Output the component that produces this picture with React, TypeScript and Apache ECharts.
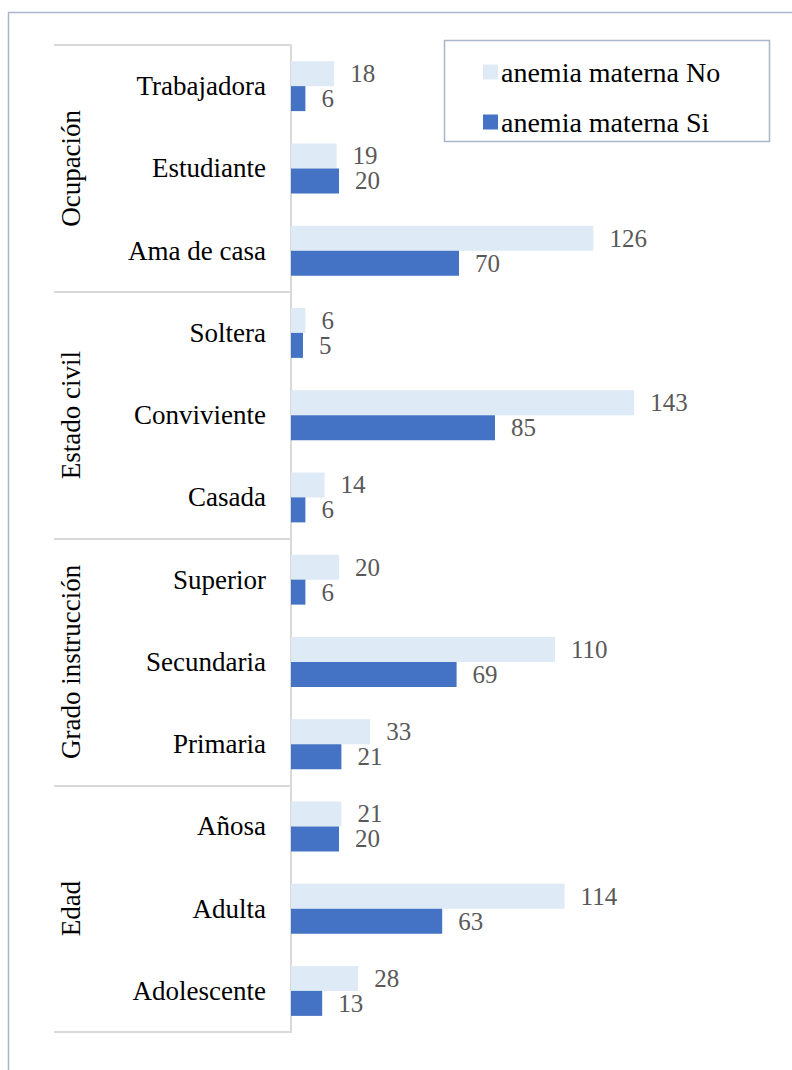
import React, { useEffect, useRef } from "react";
import * as echarts from "echarts";

const categories = [
  "Trabajadora", "Estudiante", "Ama de casa",
  "Soltera", "Conviviente", "Casada",
  "Superior", "Secundaria", "Primaria",
  "Añosa", "Adulta", "Adolescente",
];
const groups = ["Ocupación", "Estado civil", "Grado instrucción", "Edad"];
const seriesNames = ["anemia materna No", "anemia materna Si"];
const valuesNo = [18, 19, 126, 6, 143, 14, 20, 110, 33, 21, 114, 28];
const valuesSi = [6, 20, 70, 5, 85, 6, 6, 69, 21, 20, 63, 13];

const FONT = "'Liberation Serif', serif";

export default function App() {
  const ref = useRef<HTMLDivElement>(null);
  useEffect(() => {
    const chart = echarts.init(ref.current!, null, { renderer: "svg" });
    chart.setOption({
      animation: false,
      backgroundColor: "#ffffff",
      textStyle: { fontFamily: FONT },
      grid: { left: 291, top: 45, bottom: 38, width: 480, containLabel: false },
      xAxis: { type: "value", min: 0, max: 200, show: false },
      yAxis: [
        {
          type: "category",
          data: categories,
          inverse: true,
          axisLine: { show: true, lineStyle: { color: "#D9D9D9", width: 2 } },
          axisTick: { show: false },
          axisLabel: { interval: 0, margin: 25, fontSize: 27, color: "#000000", fontFamily: FONT },
        },
        {
          type: "category",
          data: groups,
          inverse: true,
          position: "left",
          axisLine: { show: false },
          axisTick: { show: true, interval: 0, length: 237, lineStyle: { color: "#D9D9D9", width: 2 } },
          axisLabel: { interval: 0, rotate: 90, margin: 207, fontSize: 27, color: "#000000", fontFamily: FONT },
        },
      ],
      legend: {
        left: 478,
        top: 53,
        orient: "vertical",
        itemWidth: 15,
        itemHeight: 15,
        itemGap: 22,
        icon: "rect",
        data: seriesNames,
        textStyle: { fontSize: 28, color: "#000000", fontFamily: FONT, padding: [0, 0, 0, -2] },
      },
      graphic: [
        {
          type: "rect",
          shape: { x: 8.5, y: 12.5, width: 820, height: 1100 },
          style: { fill: "none", stroke: "#A9B6CC", lineWidth: 1.5 },
          silent: true,
        },
        {
          type: "rect",
          shape: { x: 444.5, y: 40.5, width: 325, height: 101 },
          style: { fill: "none", stroke: "#A9B6CC", lineWidth: 1.5 },
          silent: true,
        },
      ],
      series: [
        {
          name: seriesNames[0],
          type: "bar",
          data: valuesNo,
          barWidth: 25,
          barGap: "0%",
          itemStyle: { color: "#DEEAF6" },
          label: { show: true, position: "right", distance: 16, fontSize: 25, color: "#595959", fontFamily: FONT },
        },
        {
          name: seriesNames[1],
          type: "bar",
          data: valuesSi,
          barWidth: 25,
          barGap: "0%",
          itemStyle: { color: "#4472C4" },
          label: { show: true, position: "right", distance: 16, fontSize: 25, color: "#595959", fontFamily: FONT },
        },
      ],
    });
    return () => chart.dispose();
  }, []);
  return (
    <div
      ref={ref}
      style={{ position: "absolute", left: 0, top: 0, width: 792, height: 1070 }}
    />
  );
}
